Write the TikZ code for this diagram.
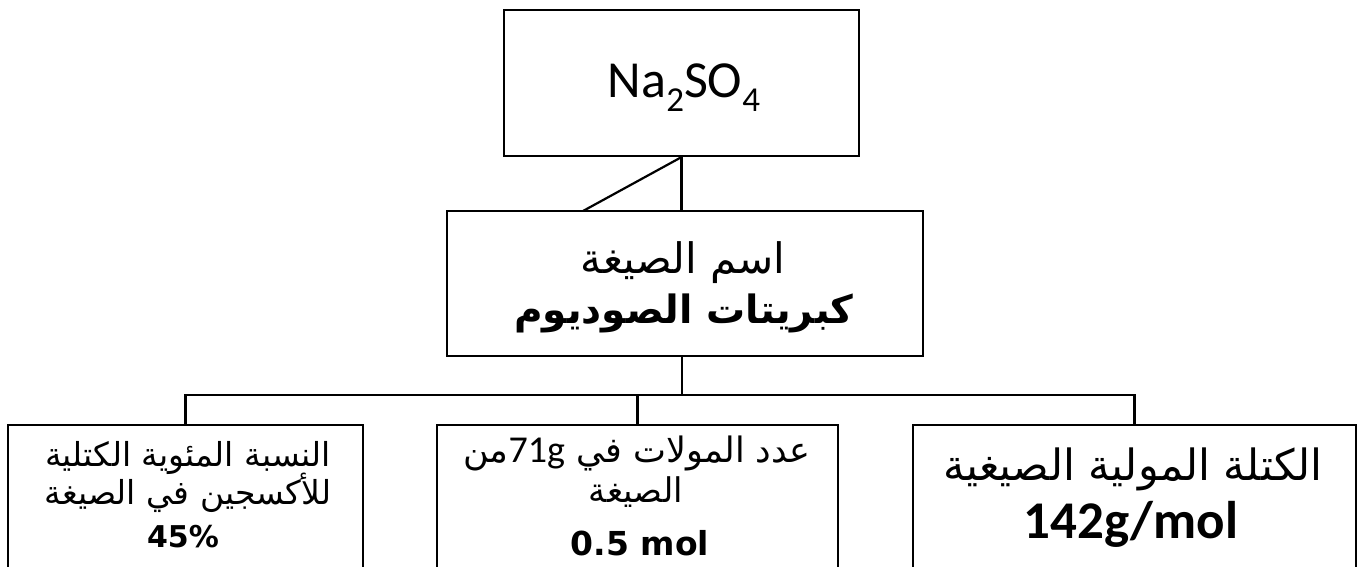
\documentclass[tikz,border=0pt]{standalone}
\usepackage{fontspec}
\TeXXeTstate=1
\newfontfamily\arabicfont[Script=Arabic]{DejaVu Sans}
\newfontfamily\calibfont{Carlito}
\newfontfamily\dvsfont{DejaVu Sans}
\newcommand{\fs}[1]{\fontsize{#1}{#1}\selectfont}
\begin{document}
\begin{tikzpicture}[x=1pt,y=-1pt,
  box/.style={draw, line width=2.2pt, rectangle, inner sep=0pt},
  lbl/.style={anchor=base, inner sep=0pt},
  conn/.style={line width=2.2pt}]
\clip (0,0) rectangle (1360,566);
% boxes
\node[box, minimum width=355pt, minimum height=146pt] (top) at (681.5,83) {};
\node[box, minimum width=476pt, minimum height=145pt] (mid) at (685,283.5) {};
\node[box, minimum width=355pt, minimum height=180pt] (left) at (185.5,515) {};
\node[box, minimum width=401pt, minimum height=180pt] (center) at (637.5,515) {};
\node[box, minimum width=443pt, minimum height=180pt] (right) at (1134.5,515) {};
% labels
\node[lbl, font=\calibfont\fs{52}] (na) at (684,97)
  {Na\raisebox{-0.28em}{\fs{35}2}SO\raisebox{-0.28em}{\fs{35}4}};
\node[lbl, font=\arabicfont\fs{42}] (m1) at (683,273) {\beginR اسم الصيغة\endR};
\node[lbl, font=\arabicfont\bfseries\fs{39}] (m2) at (684,323) {\beginR كبريتات الصوديوم\endR};
\node[lbl, font=\arabicfont\fs{33}] (l1) at (188,466) {\beginR النسبة المئوية الكتلية\endR};
\node[lbl, font=\arabicfont\fs{33}] (l2) at (188,504) {\beginR للأكسجين في الصيغة\endR};
\node[lbl, font=\dvsfont\bfseries\fs{30}] (l3) at (183,547) {45\%};
\node[lbl, font=\arabicfont\fs{35}] (c1) at (637,462) {\beginR عدد المولات في \beginL{\calibfont\fs{38}71g}\endL{}من\endR};
\node[lbl, font=\arabicfont\fs{34}] (c2) at (636,502) {\beginR الصيغة\endR};
\node[lbl, font=\dvsfont\bfseries\fs{33}] (c3) at (640,555) {0.5 mol};
\node[lbl, font=\arabicfont\fs{43}] (r1) at (1133,480) {\beginR الكتلة المولية الصيغية\endR};
\node[lbl, font=\calibfont\bfseries\fs{53}] (r2) at (1131,538) {142g/mol};
% connectors
\coordinate (foot) at (583,211);
\coordinate (hub) at (682,395);
\draw[conn] (top.south) -- (top.south |- mid.north);
\draw[conn] (top.south) -- (foot);
\draw[conn] (mid.south -| hub) -- (hub);
\draw[conn] (left.north) |- (hub) -| (right.north);
\draw[conn] (center.north) -- (center.north |- hub);
\end{tikzpicture}
\end{document}
